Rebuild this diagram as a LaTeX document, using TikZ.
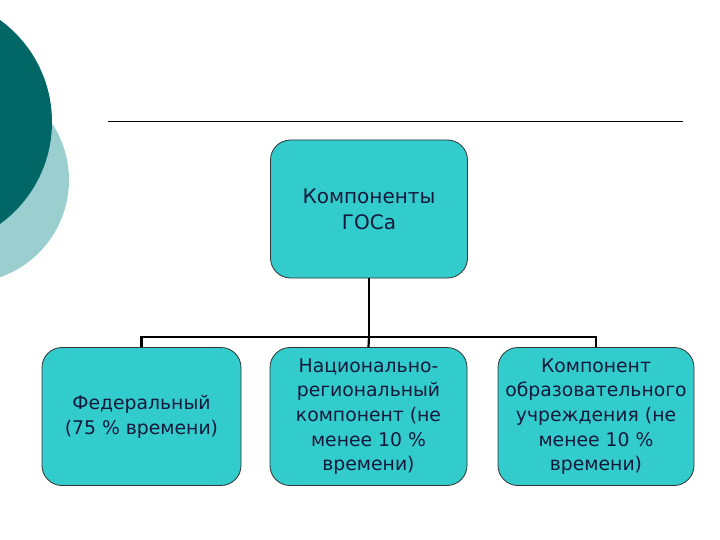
\documentclass[tikz,border=0pt]{standalone}
\usepackage{fontspec}
\setmainfont{DejaVu Sans}
\definecolor{darkteal}{RGB}{0,102,102}
\definecolor{lightteal}{RGB}{155,207,207}
\definecolor{boxfill}{RGB}{51,204,204}
\definecolor{txt}{RGB}{20,25,60}
\begin{document}
\begin{tikzpicture}[x=1pt,y=-1pt,
  box/.style={draw=black!80,line width=0.8pt,fill=boxfill,rounded corners=20pt,
    minimum width=197pt,minimum height=138pt,align=center,text=txt,
    font=\fontsize{18.8}{24.7}\selectfont,inner sep=0pt},
  conn/.style={line width=2.2pt,black}]
\useasboundingbox (0,0) rectangle (720,540);
\fill[lightteal] (-34,180) circle (103);
\fill[darkteal] (-74,122) circle (126);
\draw[line width=0.8pt] (108,121) -- (683,121);
\node[box,font=\fontsize{20}{26}\selectfont] (top) at (369,209) {Компоненты\\ГОСа};
\node[box,minimum width=199pt] (b1) at (141.5,416.5) {Федеральный\\(75 \% времени)};
\node[box] (b2) at (368.5,416.5) {Национально-\\региональный\\компонент (не\\менее 10 \%\\времени)};
\node[box,minimum width=196pt] (b3) at (596,416.5) {Компонент\\образовательного\\учреждения (не\\менее 10 \%\\времени)};
\coordinate (j) at (369,337);
\draw[conn] (top.south) -- (j);
\draw[conn] (b1.north) -- (b1.north |- j) -- (b3.north |- j) -- (b3.north);
\draw[conn] (j) -- (b2.north);
\end{tikzpicture}
\end{document}
